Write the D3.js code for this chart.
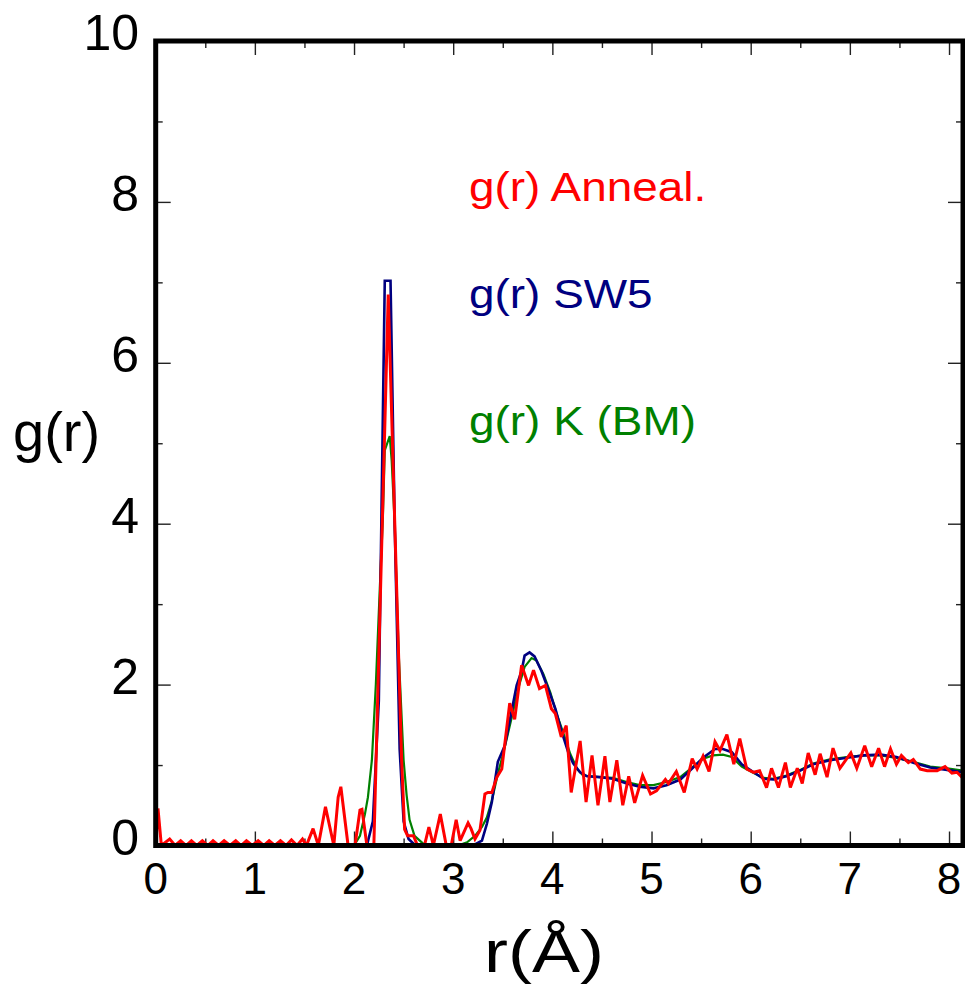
<!DOCTYPE html>
<html>
<head>
<meta charset="utf-8">
<script src="https://cdn.jsdelivr.net/npm/d3@7"></script>
<style>
  body { margin: 0; background: #fff; }
  svg text { font-family: "Liberation Sans", Arial, sans-serif; }
</style>
</head>
<body>
<div id="chart"></div>
<script>
// g(r) Anneal. (red), vertices
const rAnneal = [0, 0.023, 0.057,
  0.141, 0.196, 0.252, 0.306, 0.360, 0.415, 0.471, 0.525, 0.578, 0.634, 0.690, 0.749, 0.807,
  0.861, 0.915, 0.974, 1.033, 1.089, 1.144, 1.201, 1.258, 1.314, 1.369, 1.425, 1.480,
  1.52, 1.587, 1.64, 1.712, 1.796, 1.84, 1.867, 1.94,
  2.01, 2.06, 2.08, 2.13, 2.2,
  2.345, 2.41, 2.48, 2.51, 2.54, 2.6, 2.64,
  2.71, 2.755, 2.80, 2.87, 2.93, 2.98,
  3.03, 3.07, 3.15, 3.18, 3.22, 3.27,
  3.32, 3.35, 3.39, 3.44, 3.49,
  3.57, 3.62, 3.69, 3.76, 3.81, 3.87, 3.93, 3.99,
  4.03, 4.09, 4.14, 4.19, 4.28, 4.34, 4.40, 4.46, 4.53, 4.58, 4.65, 4.71, 4.77, 4.83, 4.91, 4.99,
  5.05, 5.14, 5.17, 5.25, 5.33, 5.41, 5.46, 5.52, 5.58, 5.64, 5.69, 5.76, 5.83, 5.89, 5.96,
  6.03, 6.09, 6.16, 6.21, 6.28, 6.35, 6.40, 6.47, 6.52, 6.58, 6.65, 6.70, 6.77, 6.83, 6.90,
  7.01, 7.07, 7.15, 7.22, 7.29, 7.35, 7.41, 7.47, 7.52, 7.59, 7.64, 7.71, 7.78, 7.88, 7.96,
  8.03, 8.08, 8.13];
const gAnneal = [0, 0.46, 0,
  0.08, 0, 0.06, 0, 0.06, 0, 0.06, 0, 0.06, 0, 0.06, 0, 0.06,
  0, 0.06, 0, 0.06, 0, 0.06, 0, 0.06, 0, 0.07, 0, 0.08,
  0, 0.21, 0, 0.48, 0, 0.6, 0.73, 0,
  0, 0.44, 0.45, 0, 0,
  6.85, 4.04, 1.06, 0.2, 0.12, 0.12, 0,
  0, 0.23, 0, 0.39, 0, 0,
  0.32, 0.06, 0.28, 0.21, 0.08, 0.19,
  0.64, 0.66, 0.66, 0.85, 0.95,
  1.77, 1.57, 2.24, 1.99, 2.18, 1.95, 1.99, 1.70,
  1.64, 1.35, 1.49, 0.66, 1.30, 0.54, 1.12, 0.50, 1.11, 0.54, 1.06, 0.50, 0.86, 0.53, 0.87, 0.64,
  0.68, 0.82, 0.77, 0.92, 0.66, 1.08, 0.95, 1.11, 0.92, 1.29, 1.18, 1.38, 1.01, 1.33, 0.95,
  0.91, 0.93, 0.72, 0.96, 0.72, 1.03, 0.72, 0.96, 0.77, 1.15, 0.88, 1.14, 0.85, 1.21, 0.96,
  1.15, 0.96, 1.24, 0.98, 1.21, 0.98, 1.20, 1.01, 1.12, 1.03, 1.07, 0.95, 0.93, 0.93, 0.98,
  0.90, 0.91, 0.85];

// g(r) SW5 (navy)
const rSW5 = [0, 2.13, 2.19, 2.25, 2.31, 2.368, 2.41, 2.46, 2.5, 2.55, 2.62,
  3.20, 3.29, 3.34, 3.39, 3.45, 3.52, 3.57, 3.64, 3.69, 3.72, 3.77, 3.82, 3.89, 3.96,
  4.03, 4.09, 4.16, 4.21, 4.28, 4.35, 4.48, 4.61, 4.75, 4.88,
  5.02, 5.15, 5.29, 5.42, 5.52, 5.64, 5.72, 5.81, 5.91,
  6.03, 6.13, 6.23, 6.36, 6.50, 6.63, 6.80, 6.97,
  7.14, 7.31, 7.47, 7.64, 7.81, 7.98, 8.14];
const gSW5 = [0, 0, 0.3, 1.8, 7.02, 7.02, 4.0, 1.2, 0.3, 0.08, 0,
  0, 0.06, 0.27, 0.54, 1.04, 1.24, 1.55, 1.99, 2.17, 2.36, 2.40, 2.35, 2.17, 1.94,
  1.70, 1.43, 1.16, 1.02, 0.91, 0.86, 0.85, 0.83, 0.77, 0.73,
  0.71, 0.75, 0.82, 0.97, 1.09, 1.20, 1.20, 1.16, 1.01,
  0.91, 0.83, 0.82, 0.86, 0.93, 1.01, 1.06, 1.09,
  1.12, 1.13, 1.10, 1.03, 0.97, 0.94, 0.91];

// g(r) K (BM) (green)
const rKBM = [0, 2.0, 2.06, 2.11, 2.14, 2.18, 2.22, 2.26, 2.29, 2.31,
  2.36, 2.38, 2.41, 2.45, 2.50, 2.53, 2.56, 2.61, 2.70, 2.78,
  3.0, 3.07, 3.14, 3.22, 3.29, 3.34, 3.39, 3.45, 3.52, 3.59,
  3.66, 3.72, 3.79, 3.84, 3.91, 3.98, 4.04, 4.11, 4.18, 4.25,
  4.31, 4.48, 4.61, 4.75, 4.88, 5.02, 5.15, 5.29, 5.42, 5.52,
  5.62, 5.72, 5.81, 5.91, 6.03, 6.13, 6.23, 6.36, 6.50, 6.63,
  6.80, 6.97, 7.14, 7.31, 7.47, 7.64, 7.81, 7.98, 8.14];
const gKBM = [0, 0, 0.12, 0.39, 0.6, 1.06, 2.0, 3.2, 4.04, 4.91,
  5.09, 4.78, 4.0, 2.4, 1.06, 0.63, 0.32, 0.12, 0.02, 0,
  0, 0.01, 0.04, 0.12, 0.23, 0.35, 0.56, 0.89, 1.22, 1.59,
  1.97, 2.22, 2.33, 2.30, 2.13, 1.90, 1.65, 1.40, 1.14, 0.95,
  0.87, 0.85, 0.84, 0.79, 0.75, 0.75, 0.79, 0.85, 0.98, 1.08,
  1.12, 1.13, 1.10, 0.98, 0.90, 0.84, 0.83, 0.87, 0.94, 1.02,
  1.07, 1.10, 1.12, 1.12, 1.09, 1.04, 0.98, 0.96, 0.93];

const xTicks = [0, 1, 2, 3, 4, 5, 6, 7, 8];
const xMinor = [0.5, 1.5, 2.5, 3.5, 4.5, 5.5, 6.5, 7.5];
const yTicks = [0, 2, 4, 6, 8, 10];
const yMinor = [1, 3, 5, 7, 9];

const legendNames = ["g(r) Anneal.", "g(r) SW5", "g(r) K (BM)"];
const colors = ["#ff0000", "#000080", "#008000"];

let width = 965,
    height = 988;
let plotLeft = 155.7, plotRight = 963, plotTop = 41, plotBottom = 845.5;

var svg = d3.select("#chart")
  .append("svg")
    .attr("width", width)
    .attr("height", height);

var x = d3.scaleLinear().domain([0, 8.141]).range([plotLeft, plotRight]);
var y = d3.scaleLinear().domain([0, 10]).range([plotBottom, plotTop]);

// clip the curves to the frame
svg.append("clipPath").attr("id", "clip")
  .append("rect")
    .attr("x", plotLeft).attr("y", plotTop)
    .attr("width", plotRight - plotLeft).attr("height", plotBottom - plotTop);

// ticks on all four sides, pointing inward
function tickAxis(gen, vals, size, transform) {
  svg.append("g")
    .attr("transform", transform)
    .call(gen.tickValues(vals).tickSizeInner(size).tickSizeOuter(0).tickFormat(""))
    .call(g => g.select(".domain").remove())
    .call(g => g.selectAll("line").attr("stroke", "#222").attr("stroke-width", 1.4));
}
tickAxis(d3.axisBottom(x), xTicks, -14, "translate(0," + plotBottom + ")");
tickAxis(d3.axisBottom(x), xMinor, -7, "translate(0," + plotBottom + ")");
tickAxis(d3.axisTop(x), xTicks, -14, "translate(0," + plotTop + ")");
tickAxis(d3.axisTop(x), xMinor, -7, "translate(0," + plotTop + ")");
tickAxis(d3.axisLeft(y), yTicks, -15, "translate(" + plotLeft + ",0)");
tickAxis(d3.axisLeft(y), yMinor, -7, "translate(" + plotLeft + ",0)");
tickAxis(d3.axisRight(y), yTicks, -15, "translate(" + plotRight + ",0)");
tickAxis(d3.axisRight(y), yMinor, -7, "translate(" + plotRight + ",0)");

// curves: green, navy, then red on top
var series = [
  {r: rKBM, g: gKBM, color: colors[2], w: 2.2},
  {r: rSW5, g: gSW5, color: colors[1], w: 2.6},
  {r: rAnneal, g: gAnneal, color: colors[0], w: 3}
];

var line = d3.line()
  .x(d => x(d[0]))
  .y(d => y(d[1]));

svg.append("g")
  .attr("clip-path", "url(#clip)")
  .selectAll("path")
  .data(series)
  .enter()
  .append("path")
    .attr("d", s => line(s.r.map((v, i) => [v, s.g[i]])))
    .attr("fill", "none")
    .attr("stroke", s => s.color)
    .attr("stroke-width", s => s.w)
    .attr("stroke-linejoin", "miter")
    .attr("stroke-miterlimit", 3);

// frame
svg.append("rect")
  .attr("x", plotLeft).attr("y", plotTop)
  .attr("width", plotRight - plotLeft).attr("height", plotBottom - plotTop)
  .attr("fill", "none")
  .attr("stroke", "#000")
  .attr("stroke-width", 5);

// tick labels
svg.append("g").selectAll("text")
  .data(xTicks)
  .enter()
  .append("text")
    .attr("x", d => x(d))
    .attr("y", 894)
    .attr("text-anchor", "middle")
    .attr("font-size", 44)
    .text(d => d);

svg.append("g").selectAll("text")
  .data(yTicks)
  .enter()
  .append("text")
    .attr("x", 139)
    .attr("y", d => y(d) + 9)
    .attr("text-anchor", "end")
    .attr("font-size", 50)
    .text(d => d);

// axis titles (the original lettering is a bit wider than Liberation Sans)
svg.append("text")
  .attr("transform", "translate(544,972) scale(1.22,1)")
  .attr("text-anchor", "middle")
  .attr("font-size", 59)
  .text("r(Å)");

svg.append("text")
  .attr("x", 13).attr("y", 451)
  .attr("font-size", 56)
  .text("g(r)");

// legend labels
var legendY = [201, 308, 435];
svg.append("g").selectAll("text")
  .data(legendNames)
  .enter()
  .append("text")
    .attr("transform", (d, i) => "translate(469," + legendY[i] + ") scale(1.12,1)")
    .attr("font-size", 41)
    .attr("fill", (d, i) => colors[i])
    .text(d => d);
</script>
</body>
</html>
